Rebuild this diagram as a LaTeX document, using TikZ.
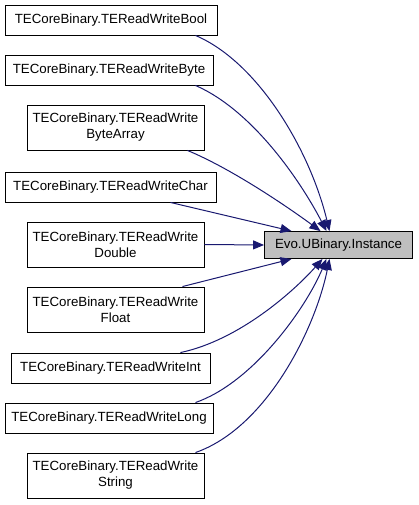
\documentclass[tikz,border=0pt]{standalone}
\usepackage{fontspec}
\setmainfont{Liberation Sans}
\usetikzlibrary{arrows.meta, positioning}
\definecolor{edgeblue}{HTML}{191970}
\definecolor{nodegray}{HTML}{BFBFBF}

\begin{document}
\begin{tikzpicture}[x=1pt, y=-1pt,
    fn/.style={draw=black, line width=0.9pt, fill=white, inner sep=0pt, align=center,
        font=\fontsize{13.3}{16}\selectfont},
    callee/.style={fn, fill=nodegray},
    call/.style={draw=edgeblue, line width=1pt, -{Triangle[length=11pt, width=9pt]}, edgeblue}]
                \useasboundingbox (0,0) rectangle (419,505);

                % Callers
                \node[fn, minimum width=212, minimum height=30] (bool) at (111,20) {TECoreBinary.TEReadWriteBool};
                \node[fn, minimum width=208, minimum height=30] (byte) at (109,70) {TECoreBinary.TEReadWriteByte};
                \node[fn, minimum width=177, minimum height=45] (bytearr) at (115.5,127.5) {TECoreBinary.TEReadWrite\\ByteArray};
                \node[fn, minimum width=211, minimum height=30] (char) at (110.5,187) {TECoreBinary.TEReadWriteChar};
                \node[fn, minimum width=177, minimum height=45] (double) at (115.5,244.5) {TECoreBinary.TEReadWrite\\Double};
                \node[fn, minimum width=177, minimum height=45] (float) at (115.5,309.5) {TECoreBinary.TEReadWrite\\Float};
                \node[fn, minimum width=199, minimum height=30] (int) at (110.5,368) {TECoreBinary.TEReadWriteInt};
                \node[fn, minimum width=208, minimum height=30] (long) at (109,418) {TECoreBinary.TEReadWriteLong};
                \node[fn, minimum width=177, minimum height=45] (string) at (115.5,475.5) {TECoreBinary.TEReadWrite\\String};

                % Callee
                \node[callee, minimum width=148, minimum height=27] (inst) at (338.5,245) {Evo.UBinary.Instance};

                % Calls
                \draw[call] (bool.south east) ++(-22,0) .. controls (258,62) and (310,150) .. ([xshift=-9]inst.north);
                \draw[call] (byte.south east) ++(-18,0) .. controls (252,110) and (300,180) .. ([xshift=-12]inst.north);
                \draw[call] (bytearr.south east) ++(-17,0) .. controls (230,168) and (285,205) .. ([xshift=-18]inst.north);
                \draw[call] (char.south east) ++(-46,0) -- ([xshift=-47]inst.north);
                \draw[call] (double.east) -- (inst.west);
                \draw[call] (float.north east) ++(-22,0) -- ([xshift=-47]inst.south);
                \draw[call] (int.north east) ++(-30,0) .. controls (240,340) and (295,290) .. ([xshift=-16]inst.south);
                \draw[call] (long.north east) ++(-18,0) .. controls (252,383) and (305,310) .. ([xshift=-12]inst.south);
                \draw[call] (string.north east) ++(-9,0) .. controls (266,428) and (315,330) .. ([xshift=-9]inst.south);
            \end{tikzpicture}
\end{document}
